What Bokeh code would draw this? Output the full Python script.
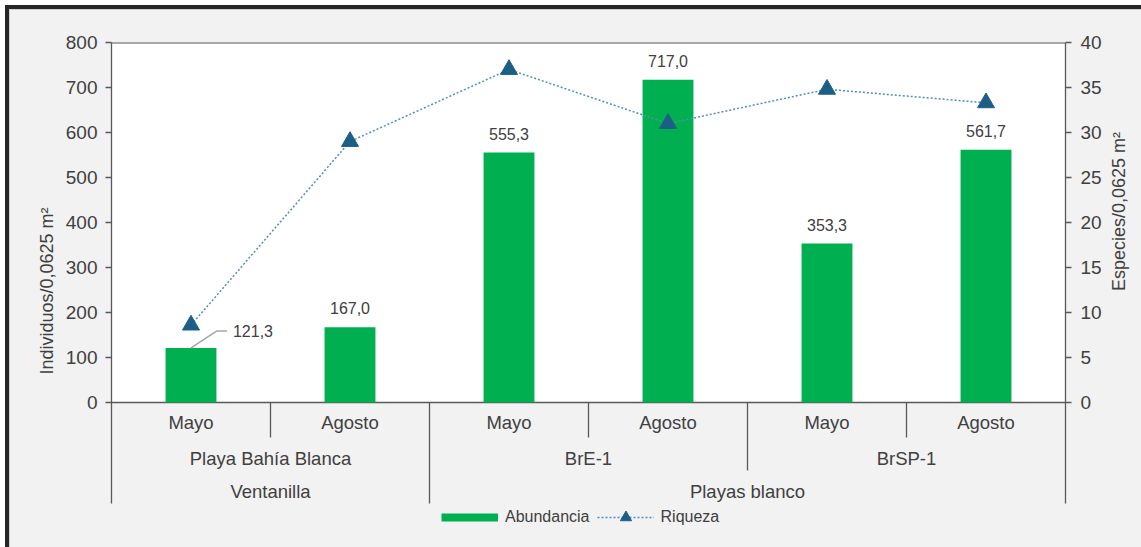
import math
from bokeh.plotting import figure
from bokeh.models import (FactorRange, Range1d, LinearAxis, FixedTicker,
                          ColumnDataSource, Legend, LegendItem)
from bokeh.core.properties import value
from bokeh.embed import file_html
from bokeh.resources import INLINE

# ---------------- data ----------------
beach_site = ["Ventanilla", "Playas blanco", "Playas blanco"]
beaches = ["Playa Bahía Blanca", "BrE-1", "BrSP-1"]
months = ["Mayo", "Agosto"]
abundancia = [121.3, 167.0, 555.3, 717.0, 353.3, 561.7]   # Individuos/0,0625 m2
riqueza = [8.6, 29.0, 37.0, 31.0, 34.8, 33.3]             # Especies/0,0625 m2
abund_ticks = [0, 100, 200, 300, 400, 500, 600, 700, 800]
riq_ticks = [0, 5, 10, 15, 20, 25, 30, 35, 40]

factors = [(s, b, m) for s, b in zip(beach_site, beaches) for m in months]
labels = [f"{v:.1f}".replace(".", ",") for v in abundancia]

# ---------------- geometry ----------------
FONT = "Liberation Sans"
TXT = "#404040"
AX = "#595959"
PLOT_H = 360.0                       # px used by 0..800
PX = PLOT_H / abund_ticks[-1]        # px per unit
BELOW = 101.0                        # px below zero for category rows
FRAME_BELOW = 137.0                  # px below zero down to frame bottom
Y_LO = -FRAME_BELOW / PX
Y_AX = -BELOW / PX
Y_HI = abund_ticks[-1]
R_SCALE = riq_ticks[-1] / Y_HI

p = figure(width=1141, height=547,
           x_range=FactorRange(*factors, factor_padding=0, subgroup_padding=0,
                               group_padding=0, range_padding=0),
           y_range=Range1d(Y_LO, Y_HI),
           x_axis_location=None, output_backend="svg", toolbar_location=None,
           min_border_left=111, min_border_right=75, min_border_top=42,
           min_border_bottom=8,
           background_fill_color="#F2F2F2", border_fill_alpha=0)
p.outline_line_color = None
p.grid.visible = False
p.extra_y_ranges = {"riq": Range1d(Y_LO * R_SCALE, riq_ticks[-1])}
p.styles = {"background-color": "#F2F2F2",
            "box-shadow": "inset 5px 5px 0 0 #ffffff, inset 9px 9px 0 0 #262626, "
                          "inset 10px 10px 0 0 #d0d0d0"}

first = factors[0]
last = factors[-1]
# white plotting area
p.quad(left=[(*first, -0.5)], right=[(*last, 0.5)], bottom=[0], top=[Y_HI],
       fill_color="white", line_color=None)
p.segment(x0=[(*first, -0.5)], x1=[(*last, 0.5)], y0=[Y_HI], y1=[Y_HI],
          line_color=AX, line_width=2.2)
p.segment(x0=[(*first, -0.5)], x1=[(*last, 0.5)], y0=[0], y1=[0],
          line_color=AX, line_width=1.3)

src = ColumnDataSource(dict(x=factors, abund=abundancia, riq=riqueza, lab=labels))

p.vbar(x="x", top="abund", width=0.32, source=src, fill_color="#00B050",
       line_color=None)

line_r = p.line(x="x", y="riq", source=src, y_range_name="riq",
                line_color="#4F8FBA", line_width=1.5, line_dash="2 2")
mark_r = p.scatter(x="x", y="riq", source=src, y_range_name="riq",
                   marker="triangle", size=17, fill_color="#1D5E87",
                   line_color="#1D5E87")

# data labels (first one is a callout to the right)
p.text(x=factors[1:], y=abundancia[1:], text=labels[1:], y_offset=-19,
       text_align="center", text_baseline="middle", text_color=TXT,
       text_font=value(FONT), text_font_size="16px")
v0 = abundancia[0]
dy = 17 / PX
p.line(x=[(*first, 0.0), (*first, 26 / 159.2), (*first, 36 / 159.2)],
       y=[v0, v0 + dy, v0 + dy], line_color="#A6A6A6", line_width=1.5)
p.text(x=[(*first, 42 / 159.2)], y=[v0 + dy], text=[labels[0]],
       text_align="left", text_baseline="middle", text_color=TXT,
       text_font=value(FONT), text_font_size="16px")

# multi-level category labels
CAT_FS = "18.5px"
p.text(x=factors, y=[0] * len(factors), text=[f[2] for f in factors], y_offset=20,
       text_align="center", text_baseline="middle", text_color=TXT,
       text_font=value(FONT), text_font_size=CAT_FS)
mids = [(s, b) for s, b in zip(beach_site, beaches)]
p.text(x=mids, y=[0] * len(mids), text=beaches, y_offset=56,
       text_align="center", text_baseline="middle", text_color=TXT,
       text_font=value(FONT), text_font_size=CAT_FS)
tops = list(dict.fromkeys(beach_site))
p.text(x=tops, y=[0] * len(tops), text=tops, y_offset=89,
       text_align="center", text_baseline="middle", text_color=TXT,
       text_font=value(FONT), text_font_size=CAT_FS)

# separators between categories
sx, sy = [], []
for i in range(1, len(factors)):
    a, b = factors[i - 1], factors[i]
    if a[0] != b[0]:
        depth = Y_AX
    elif a[1] != b[1]:
        depth = -68 / PX
    else:
        depth = -35 / PX
    sx.append((*b, -0.5))
    sy.append(depth)
p.segment(x0=sx, x1=sx, y0=[0] * len(sx), y1=sy, line_color=AX, line_width=1.3)

# axes
yl = p.yaxis[0]
yl.ticker = FixedTicker(ticks=abund_ticks)
yl.axis_label = "Individuos/0,0625 m²"
yl.bounds = (Y_AX, Y_HI)
yr = LinearAxis(y_range_name="riq", ticker=FixedTicker(ticks=riq_ticks),
                axis_label="Especies/0,0625 m²",
                bounds=(Y_AX * R_SCALE, riq_ticks[-1]))
p.add_layout(yr, "right")
for ax in (yl, yr):
    ax.axis_line_color = AX
    ax.axis_line_width = 1.3
    ax.major_tick_line_color = AX
    ax.major_tick_line_width = 1.3
    ax.major_tick_out = 6
    ax.major_tick_in = 0
    ax.minor_tick_line_color = None
    ax.major_label_text_font = FONT
    ax.major_label_text_font_size = "19px"
    ax.major_label_text_color = TXT
    ax.major_label_standoff = 8
    ax.axis_label_text_font = FONT
    ax.axis_label_text_font_size = "18px"
    ax.axis_label_text_font_style = "normal"
    ax.axis_label_text_color = TXT
yl.axis_label_standoff = 6
yr.major_label_standoff = 9
yr.axis_label_standoff = 14
yr.axis_label_orientation = math.pi / 2

# legend (a one-point line draws nothing in the plot, only its legend swatch)
swatch = p.line(x=[first], y=[0], line_color="#00B050", line_width=8)
legend = Legend(items=[LegendItem(label="Abundancia", renderers=[swatch]),
                       LegendItem(label="Riqueza", renderers=[line_r, mark_r])],
                orientation="horizontal", location=(330, 8),
                glyph_width=57, glyph_height=28, label_standoff=7, spacing=7,
                padding=0, margin=0, border_line_color=None,
                background_fill_alpha=0, label_text_font=FONT,
                label_text_font_size="16px", label_text_color=TXT)
p.add_layout(legend)

open("out.html", "w").write(file_html(p, INLINE))
